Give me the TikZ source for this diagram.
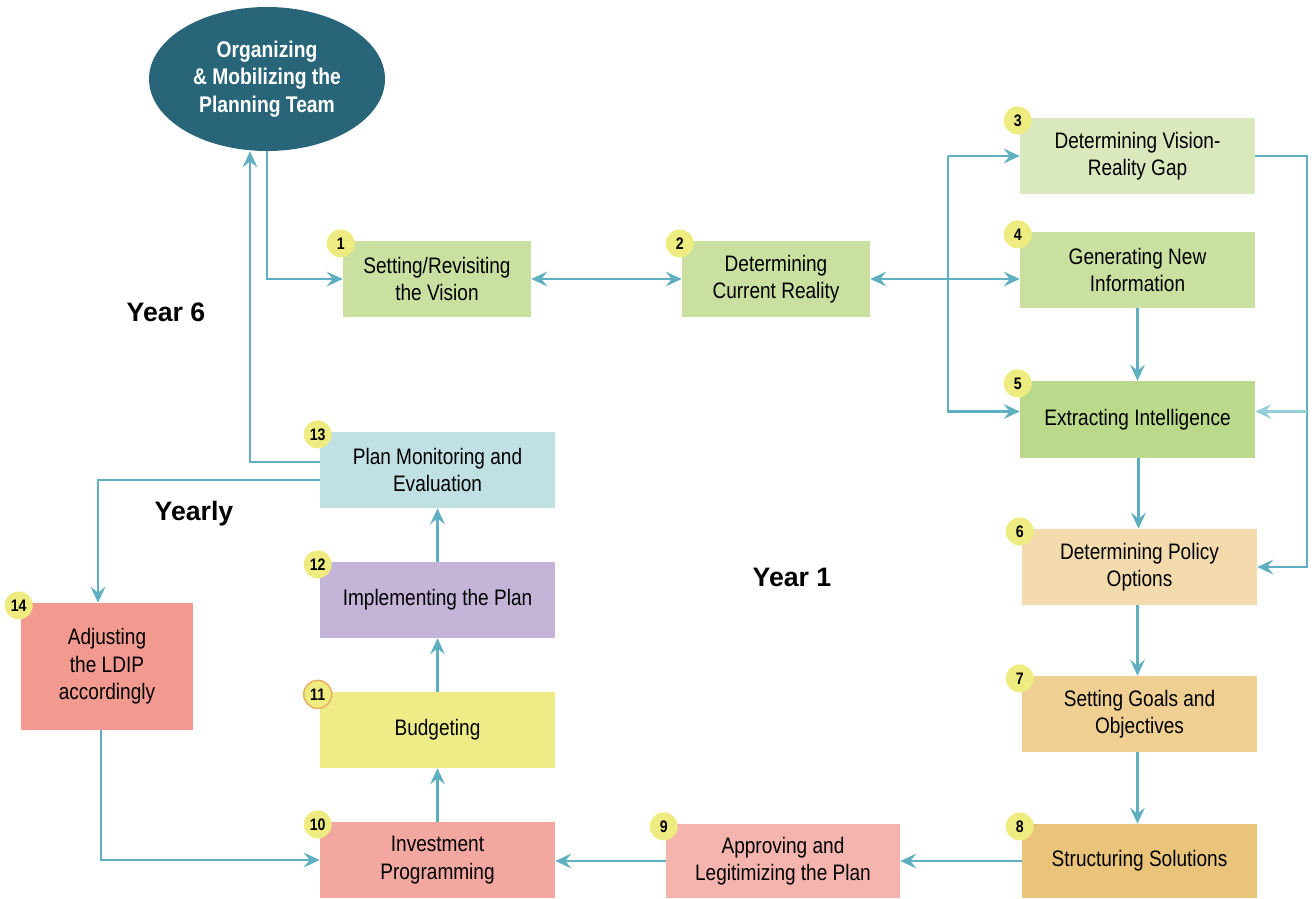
\documentclass[tikz,border=0pt]{standalone}
\usepackage{fontspec}
\setmainfont{Liberation Sans}[FakeStretch=0.85]
\newfontfamily\yearfont{Liberation Sans}
\usetikzlibrary{arrows.meta,shapes.geometric}

\definecolor{link}{RGB}{95,175,192}
\definecolor{linkpale}{RGB}{150,205,215}
\definecolor{teamblue}{RGB}{41,101,120}
\definecolor{badge}{RGB}{238,236,128}
\definecolor{badgering}{RGB}{232,178,100}
\definecolor{cA}{RGB}{201,224,160}
\definecolor{cB}{RGB}{218,232,190}
\definecolor{cC}{RGB}{186,217,138}
\definecolor{cD}{RGB}{244,219,174}
\definecolor{cE}{RGB}{239,207,146}
\definecolor{cF}{RGB}{234,196,123}
\definecolor{cG}{RGB}{245,181,174}
\definecolor{cH}{RGB}{242,167,160}
\definecolor{cI}{RGB}{238,236,135}
\definecolor{cJ}{RGB}{196,180,216}
\definecolor{cK}{RGB}{192,224,228}
\definecolor{cL}{RGB}{242,154,144}

\tikzset{
  stepbox/.style={rectangle, inner sep=0pt, align=center,
    minimum width=176.25pt, minimum height=57pt,
    font=\fontsize{16.8}{20.5}\selectfont},
  narrowbox/.style={stepbox, minimum width=141pt},
  badgedot/.style={circle, fill=badge, minimum size=21pt, inner sep=0pt,
    font=\bfseries\fontsize{12.5}{13}\selectfont},
  tip/.tip={Stealth[length=12pt, width=11pt, inset=4.5pt]},
  conn/.style={draw=link, line width=2.1pt, -tip},
  twoway/.style={draw=link, line width=2.1pt, tip-tip},
  yearlabel/.style={font=\yearfont\bfseries\fontsize{20}{24}\selectfont},
}

\begin{document}
\begin{tikzpicture}[x=0.75pt, y=-0.75pt]
\useasboundingbox (0,0) rectangle (1314,899);

% planning team
\node[ellipse, fill=teamblue, text=white, minimum width=177pt, minimum height=108pt,
  inner sep=0pt, align=center, font=\bfseries\fontsize{17}{20.6}\selectfont]
  (team) at (267,79) {Organizing\\\& Mobilizing the\\Planning Team};

% steps
\node[narrowbox, fill=cA] (b1) at (437,279) {Setting/Revisiting\\the Vision};
\node[narrowbox, fill=cA] (b2) at (776,279) {Determining\\Current Reality};
\node[stepbox, fill=cB] (b3) at (1137.5,156) {Determining Vision-\\Reality Gap};
\node[stepbox, fill=cA] (b4) at (1137.5,270) {Generating New\\Information};
\node[stepbox, fill=cC, minimum height=57.75pt] (b5) at (1137.5,419.5) {Extracting Intelligence};
\node[stepbox, fill=cD] (b6) at (1139.5,567) {Determining Policy\\Options};
\node[stepbox, fill=cE] (b7) at (1139.5,714) {Setting Goals and\\Objectives};
\node[stepbox, fill=cF, minimum height=55.5pt] (b8) at (1139.5,861) {Structuring Solutions};
\node[stepbox, fill=cG, minimum width=175.5pt, minimum height=55.5pt] (b9) at (783,861) {Approving and\\Legitimizing the Plan};
\node[stepbox, fill=cH] (b10) at (437.5,860) {Investment\\Programming};
\node[stepbox, fill=cI] (b11) at (437.5,730) {Budgeting};
\node[stepbox, fill=cJ] (b12) at (437.5,600) {Implementing the Plan};
\node[stepbox, fill=cK] (b13) at (437.5,470) {Plan Monitoring and\\Evaluation};
\node[stepbox, fill=cL, minimum width=129pt, minimum height=95.25pt] (b14) at (107,666.5)
  {Adjusting\\the LDIP\\accordingly};

% number badges
\foreach \b/\n in {b1/1,b2/2,b3/3,b4/4,b5/5,b6/6,b7/7,b8/8,b9/9,b10/10,b12/12,b13/13,b14/14}
  \node[badgedot] (n\n) at ([xshift=-1.5pt,yshift=-2pt]\b.north west) {\n};
\node[badgedot, draw=badgering, line width=1.2pt] (n11) at ([xshift=-1.5pt,yshift=-2pt]b11.north west) {11};

% routing helpers
\coordinate (spine) at (948,279);
\coordinate (rail) at (1307,158);
\coordinate (b5in) at ([yshift=6pt]b5.west);
\coordinate (b5back) at ([yshift=6pt]b5.east);

% connectors
\draw[conn] (team.south) |- (b1.west);
\draw[conn] ([yshift=6pt]b13.west) -| ([xshift=-12.75pt]team.south);
\draw[conn] ([yshift=-7.5pt]b13.west) -| ([xshift=-6.75pt]b14.north);
\draw[conn] ([xshift=-4.5pt]b14.south) |- (b10.west);
\draw[twoway] (b1.east) -- (b2.west);
\draw[twoway] (b2.east) -- (b2.east -| b4.west);
\draw[conn] (spine |- b3.west) -- (b3.west);
\draw[conn] (spine |- b3.west) -- (spine |- b5in) -- (b5in);
\draw[conn] (b3.east) -- (b3.east -| rail) -- (rail |- b6.east) -- (b6.east);
\draw[conn, draw=linkpale] (rail |- b5back) -- (b5back);
\draw[conn] (b4.south) -- (b5.north);
\draw[conn] ([xshift=0.75pt]b5.south) -- ([xshift=0.75pt]b5.south |- b6.north);
\draw[conn] ([xshift=-1.5pt]b6.south) -- ([xshift=-1.5pt]b7.north);
\draw[conn] ([xshift=-1.5pt]b7.south) -- ([xshift=-1.5pt]b8.north);
\draw[conn] (b8.west) -- (b9.east);
\draw[conn] (b9.west) -- (b9.west -| b10.east);
\draw[conn] (b10.north) -- (b11.south);
\draw[conn] (b11.north) -- (b12.south);
\draw[conn] (b12.north) -- (b13.south);

% period labels
\node[yearlabel] (y6) at (166,312) {Year 6};
\node[yearlabel] (yy) at (194,514) {Yearly};
\node[yearlabel] (y1) at (792,577) {Year 1};
\end{tikzpicture}
\end{document}
